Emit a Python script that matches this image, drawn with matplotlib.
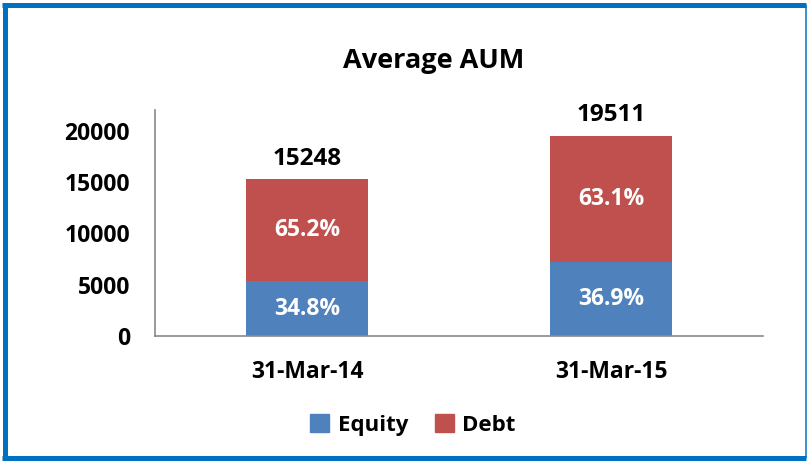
import matplotlib.pyplot as plt
from matplotlib.lines import Line2D
from matplotlib.patches import Patch

# data
dates = ["31-Mar-14", "31-Mar-15"]
totals = [15248, 19511]
equity_pct = [34.8, 36.9]
debt_pct = [65.2, 63.1]

BLUE = "#4F81BD"
RED = "#C0504D"
FONT = "Open Sans"

equity = [t * p / 100 for t, p in zip(totals, equity_pct)]
debt = [t - e for t, e in zip(totals, equity)]

plt.rcParams['font.family'] = [FONT, 'DejaVu Sans']
plt.rcParams['font.weight'] = 'bold'

fig = plt.figure(figsize=(8.08, 4.62), dpi=100)
ax = fig.add_axes([0.1918, 0.2727, 0.7525, 0.4892])

x = range(len(dates))
ax.bar(x, equity, width=0.4, color=BLUE, label="Equity")
ax.bar(x, debt, width=0.4, bottom=equity, color=RED, label="Debt")

for i in x:
    ax.text(i, equity[i] / 2, f"{equity_pct[i]:.1f}%", ha="center", va="center",
            color="white", fontsize=16.5, fontweight="bold")
    ax.text(i, equity[i] + debt[i] / 2, f"{debt_pct[i]:.1f}%", ha="center", va="center",
            color="white", fontsize=16.5, fontweight="bold")
    ax.text(i, totals[i] + 850, str(totals[i]), ha="center", va="bottom",
            fontsize=17.5, fontweight="bold")

ax.set_xlim(-0.5, 1.5)
ax.set_ylim(0, 22000)
ax.set_yticks([0, 5000, 10000, 15000, 20000])
ax.set_xticks(list(x))
ax.set_xticklabels(dates)
ax.tick_params(axis="y", length=0, labelsize=16.5, pad=18)
ax.tick_params(axis="x", length=0, labelsize=16.5, pad=17)
for lbl in ax.get_xticklabels() + ax.get_yticklabels():
    lbl.set_fontweight("bold")
for side in ["top", "right"]:
    ax.spines[side].set_visible(False)
for side in ["left", "bottom"]:
    ax.spines[side].set_color("#898989")
    ax.spines[side].set_linewidth(1.2)

fig.text(0.537, 0.868, "Average AUM", ha="center", va="center",
         fontsize=19.5, fontweight="bold")

handles = [Patch(color=BLUE, label="Equity"), Patch(color=RED, label="Debt")]
fig.legend(handles=handles, loc="center", bbox_to_anchor=(0.511, 0.08), ncol=2,
           frameon=False, handlelength=0.85, handleheight=0.85,
           columnspacing=1.2, handletextpad=0.4, prop={'weight': 'bold', 'size': 16})

# frame round the figure: thick blue left, top and bottom, thin on the right
W, H = 808, 462
frame = [((4.5, 4.5), (4.5, 457.5), 5),      # left
         ((2, 806), (457.5, 457.5), 5),       # top
         ((2, 806), (4.5, 4.5), 5),           # bottom
         ((806, 806), (4.5, 457.5), 1.5)]     # right
for xs, ys, lw in frame:
    fig.add_artist(Line2D([v / W for v in xs], [v / H for v in ys],
                          transform=fig.transFigure, color="#0070C0",
                          linewidth=lw * 72 / 100, solid_capstyle="butt"))
fig.savefig("out.png", dpi=100)
